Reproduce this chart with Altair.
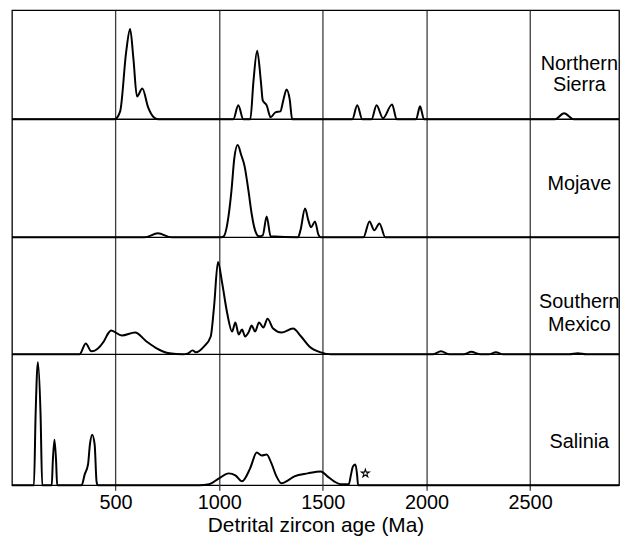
import altair as alt
import pandas as pd

# ---- data (age in Ma, relative probability in px-like units) ----
ns_age = [0, 495, 522, 551, 570, 586, 603, 629, 657, 684, 705,
          1068, 1092, 1116, 1150, 1165, 1183, 1201, 1210, 1229, 1248, 1271, 1295,
          1310, 1325, 1340, 1352, 1642, 1666, 1690, 1735, 1759, 1790, 1834, 1856,
          1950, 1969, 1988, 2620, 2664, 2710, 2929]
ns_val = [0, 0, 8, 68, 91, 61, 23, 31, 12, 2, 0,
          0, 14, 0, 0, 38, 69, 38, 19, 14, 2, 7, 8,
          20, 30, 20, 0, 0, 14, 0, 0, 14, 1, 15, 0,
          0, 13, 0, 0, 6, 0, 0]

mo_age = [0, 640, 704, 770, 1010, 1022, 1046, 1059, 1073, 1089, 1106, 1122, 1141,
          1157, 1173, 1192, 1210, 1229, 1248, 1380, 1392, 1414, 1430, 1443, 1462,
          1478, 1490, 1696, 1725, 1748, 1773, 1801, 2929]
mo_val = [0, 0, 4, 0, 0, 1, 23, 47, 80, 93, 83, 72, 47,
          23, 7, 1, 2, 21, 1, 0, 7, 29, 17, 10, 16,
          3, 0, 0, 16, 7, 14, 0, 0]

sm_age = [0, 326, 356, 383, 443, 467, 478, 530, 594, 649, 698, 760, 824, 850, 871,
          887, 927, 959, 975, 994, 1014, 1038, 1062, 1078, 1094, 1110, 1125, 1141,
          1157, 1173, 1192, 1213, 1233, 1260, 1300, 1356, 1395, 1435, 1490, 1538,
          2030, 2070, 2110, 2180, 2216, 2260, 2300, 2335, 2370, 2690, 2730, 2770, 2929]
sm_val = [0, 0, 11, 3, 13, 22, 24, 19, 22, 13, 6, 1, 0, 1, 4,
          2, 8, 18, 48, 93, 72, 42, 23, 32, 20, 25, 18, 22,
          29, 23, 32, 27, 36, 26, 22, 26, 18, 8, 2, 0,
          0, 3, 0, 0, 2.5, 0, 0, 2, 0, 0, 1, 0, 0]

sa_age = [0, 106, 114, 125, 138, 146, 192, 197, 205, 213, 218,
          336, 351, 367, 376, 387, 399, 408, 414,
          903, 951, 999, 1046, 1078, 1110, 1149, 1181, 1205, 1229, 1252, 1276, 1300,
          1332, 1363, 1427, 1490, 1522, 1554, 1586, 1625, 1636, 1645, 1657, 1665,
          1670, 1680, 2929]
sa_val = [0, 0, 71, 124, 71, 0, 0, 24, 46, 24, 0,
          0, 11, 21, 41, 51, 41, 4, 0,
          0, 1, 7, 12, 10, 4, 17, 33, 30, 31, 22, 9, 2,
          5, 9, 12, 14, 9, 4, 1, 1, 11, 19, 21, 11,
          0, 0, 0]

star_age = [1705]
star_val = [12]

panels = ["Northern Sierra", "Mojave", "Southern Mexico", "Salinia"]
label_text = ["Northern", "Sierra", "Mojave", "Southern", "Mexico", "Salinia"]
tick_values = [500, 1000, 1500, 2000, 2500]

# ---- layout (plot units: 1 unit = 1 px, measured up from the bottom axis) ----
offsets = [369, 250, 132, 0]          # baseline of each panel
label_pos = [425, 403, 304, 185, 162, 44]
TOP = 479
X_MAX = 2929
W = 612
FONT = "Liberation Sans"
GRID = "#3c3c3c"
STAR = ("M0,-1L0.2245,-0.309L0.9511,-0.309L0.3633,0.118L0.5878,0.809L0,0.382"
        "L-0.5878,0.809L-0.3633,0.118L-0.9511,-0.309L-0.2245,-0.309Z")

rows = []
for name, ages, vals, off in zip(panels, [ns_age, mo_age, sm_age, sa_age],
                                 [ns_val, mo_val, sm_val, sa_val], offsets):
    for a, v in zip(ages, vals):
        rows.append({"panel": name, "age": a, "p": v, "off": off})
curves = pd.DataFrame(rows)

xs = alt.Scale(domain=[0, X_MAX], nice=False, zero=False)
ys = alt.Scale(domain=[0, TOP], nice=False)

x_axis = alt.Axis(values=tick_values, grid=True, gridColor=GRID, gridOpacity=1,
                  gridWidth=1.3, domain=False, ticks=True, tickSize=5, format="d",
                  tickColor=GRID, tickWidth=1.3, labelFont=FONT,
                  labelFontSize=20, labelColor="black", labelPadding=2,
                  title="Detrital zircon age (Ma)", titleFont=FONT,
                  titleFontSize=21, titleFontWeight="normal",
                  titleColor="black", titlePadding=3)

lines = alt.Chart(curves).transform_calculate(
    yy="datum.p + datum.off"
).mark_line(color="black", strokeWidth=2, interpolate="monotone").encode(
    x=alt.X("age:Q", scale=xs, axis=x_axis),
    y=alt.Y("yy:Q", scale=ys, axis=None),
    detail="panel:N",
)

sep = alt.Chart(pd.DataFrame({"off": offsets[:3]})).mark_rule(
    color="black", strokeWidth=1.3
).encode(y=alt.Y("off:Q", scale=ys))

labels = alt.Chart(pd.DataFrame({"t": label_text, "ly": label_pos})).mark_text(
    font=FONT, fontSize=20, color="black", align="center", baseline="middle"
).encode(text="t:N", y=alt.Y("ly:Q", scale=ys), x=alt.value(572))

star = alt.Chart(pd.DataFrame({"age": star_age, "p": star_val})).mark_point(
    shape=STAR, filled=False, color="black", size=70, strokeWidth=1.1, opacity=1
).encode(x=alt.X("age:Q", scale=xs), y=alt.Y("p:Q", scale=ys))

chart = alt.layer(lines, sep, labels, star).properties(
    width=W, height=TOP, padding=0
).configure_view(stroke="black", strokeWidth=1.3)

chart.save("out.html", embed_options={"renderer": "svg", "actions": False})
